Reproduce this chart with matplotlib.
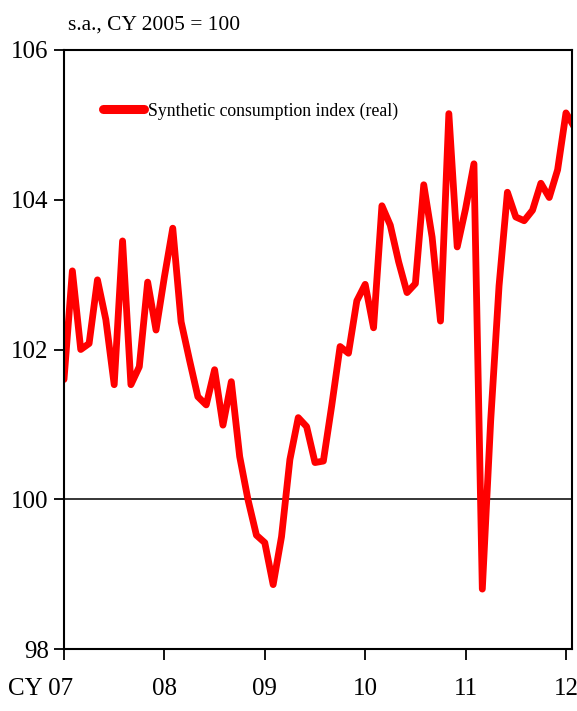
import numpy as np
import matplotlib
matplotlib.use("Agg")
import matplotlib.pyplot as plt
import matplotlib.transforms as mtransforms

# monthly index, Jan 2007 .. Feb 2012
values_2007 = [101.6, 103.05, 102.0, 102.08, 102.93, 102.4, 101.53, 103.45, 101.53, 101.77, 102.9, 102.26]
values_2008 = [102.97, 103.62, 102.37, 101.86, 101.37, 101.26, 101.73, 100.99, 101.57, 100.57, 99.99, 99.52]
values_2009 = [99.42, 98.86, 99.5, 100.53, 101.09, 100.97, 100.49, 100.51, 101.25, 102.04, 101.95, 102.65]
values_2010 = [102.87, 102.29, 103.92, 103.66, 103.17, 102.76, 102.88, 104.2, 103.5, 102.38, 105.15, 103.37]
values_2011 = [103.88, 104.48, 98.8, 101.05, 102.85, 104.1, 103.77, 103.72, 103.86, 104.22, 104.03, 104.4]
values_2012 = [105.16, 104.97]

year_labels = ["CY 07", "08", "09", "10", "11", "12"]
y_ticks = [98, 100, 102, 104, 106]

series = np.array(values_2007 + values_2008 + values_2009 + values_2010 + values_2011 + values_2012)
months = np.arange(len(series))

plt.rcParams['font.family'] = ['Liberation Serif', 'DejaVu Serif']

fig = plt.figure(figsize=(5.77, 7.11), dpi=100)
ax = fig.add_axes([64 / 577, 1 - 649 / 711, 508 / 577, 599 / 711])

ax.plot(months, series, color='#ff0000', lw=4.9, solid_joinstyle='round',
        solid_capstyle='round', label='Synthetic consumption index (real)')
ax.axhline(100, color='black', lw=1.1, zorder=1)

ax.set_xlim(0, 60.72)
ax.set_ylim(98, 106)
ax.set_yticks(y_ticks)
ax.set_xticks(np.arange(0, 61, 12))
ax.set_xticklabels(year_labels)

for s in ax.spines.values():
    s.set_linewidth(1.5)
ax.tick_params(axis='y', direction='out', length=7, width=1.3, labelsize=18, pad=4)
ax.tick_params(axis='x', direction='out', length=8, width=1.3, labelsize=18, pad=13)

# first label sits left of its tick
first = ax.get_xticklabels()[0]
first.set_ha('right')
first.set_transform(first.get_transform() + mtransforms.ScaledTranslation(9 / 100, 0, fig.dpi_scale_trans))

ax.text(68 / 577, 1 - 25 / 711, 's.a., CY 2005 = 100', transform=fig.transFigure,
        fontsize=15.5, ha='left', va='center')

leg = ax.legend(loc='center left', bbox_to_anchor=(0.077, 0.898), frameon=False,
                borderpad=0, borderaxespad=0, handlelength=2.3, handletextpad=0.25,
                fontsize=12.8)
for h in leg.get_lines():
    h.set_linewidth(6.5)
    h.set_solid_capstyle('round')

fig.savefig('out.png', dpi=100)
